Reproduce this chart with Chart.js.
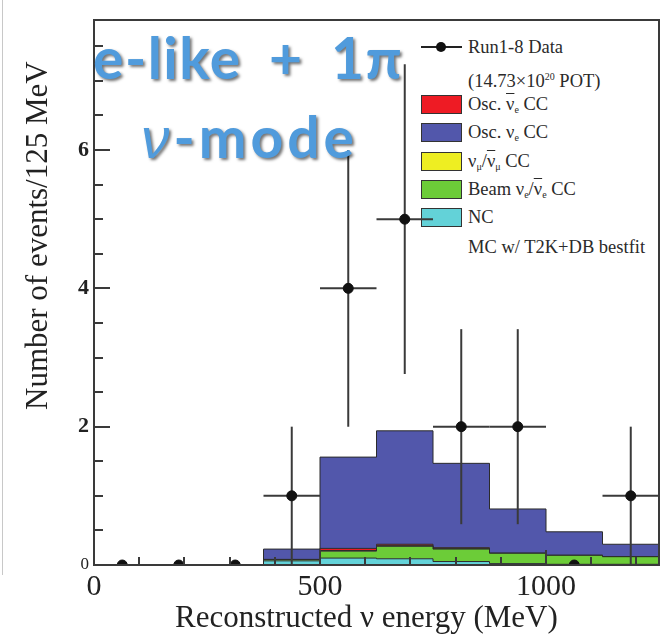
<!DOCTYPE html>
<html>
<head>
<meta charset="utf-8">
<script src="https://cdn.jsdelivr.net/npm/chart.js@4/dist/chart.umd.min.js"></script>
<style>
html,body{margin:0;padding:0;background:#fff;}
#wrap{position:relative;width:667px;height:641px;overflow:hidden;font-family:"Liberation Serif",serif;color:#222;}
#c{position:absolute;left:0;top:0;z-index:2;}
#legend{position:absolute;left:0;top:0;width:667px;height:641px;z-index:1;}
.lrow{position:absolute;left:468px;height:24px;line-height:24px;font-size:18.5px;white-space:nowrap;color:#2a2a2a;}
.lbox{position:absolute;left:421px;width:39px;height:17px;border:1px solid #333;}
.ov{text-decoration:overline;}
sub{font-size:10px;vertical-align:-3px;}
sup{font-size:10px;vertical-align:7px;}
.ann{position:absolute;z-index:3;color:#509bdc;font-family:Lato,"Open Sans",sans-serif;font-weight:bold;font-size:57px;letter-spacing:1.5px;word-spacing:12px;white-space:nowrap;text-shadow:2px 2px 3px rgba(0,0,0,0.55);line-height:1;}
.axt{position:absolute;z-index:3;font-size:31px;white-space:nowrap;color:#222;line-height:1;}
#border{position:absolute;left:2px;top:0;width:1px;height:575px;background:#c8c8c8;z-index:3;}
</style>
</head>
<body>
<div id="wrap">
  <div id="legend"></div>
  <canvas id="c" width="667" height="641"></canvas>
  <div id="border"></div>
  <div class="ann" style="left:93px;top:29px;">e-like + 1π</div>
  <div class="ann" style="left:141px;top:108px;letter-spacing:4px;"><i style="font-family:'Liberation Sans',sans-serif;font-weight:normal;">ν</i>-mode</div>
  <div class="axt" style="left:175px;top:601px;">Reconstructed ν energy (MeV)</div>
  <div class="axt" id="ytitle" style="left:37px;top:40px;transform-origin:0 0;transform:rotate(-90deg) translate(-370px,-16px);">Number of events/125 MeV</div>
</div>
<script>
// ---------- data ----------
const dataBinCenters = [62.5, 187.5, 312.5, 437.5, 562.5, 687.5, 812.5, 937.5, 1062.5, 1187.5];
const dataCounts     = [0, 0, 0, 1, 4, 5, 2, 2, 0, 1];
const dataErrLow     = [0, 0, 0, 1, 2, 2.24, 1.41, 1.41, 0, 1];
const dataErrHigh    = [0, 0, 0, 1, 2, 2.24, 1.41, 1.41, 0, 1];
const dataErrX       = [0, 0, 0, 62.5, 62.5, 62.5, 62.5, 62.5, 0, 62.5];

// MC histogram bins (left edge of first bin, then right edges)
const mcStart      = 375;
const mcBinRight   = [500, 625, 750, 875, 1000, 1125, 1250];
const mcNC         = [0.06, 0.10, 0.09, 0.05, 0.02, 0.01, 0.01];
const mcBeamNue    = [0.02, 0.10, 0.18, 0.18, 0.15, 0.13, 0.11];
const mcNumu       = [0.00, 0.01, 0.01, 0.01, 0.00, 0.00, 0.00];
const mcOscAntiNue = [0.00, 0.03, 0.02, 0.01, 0.00, 0.00, 0.00];
const mcOscNue     = [0.15, 1.32, 1.64, 1.22, 0.64, 0.34, 0.18];

const xTickValues = [0, 500, 1000];
const yTickValues = [0, 2, 4, 6];

const legendDataLines = ['Run1-8 Data', '(14.73×10<sup>20</sup> POT)'];
const legendNames = [
  'Osc. <span class="ov">ν</span><sub>e</sub> CC',
  'Osc. ν<sub>e</sub> CC',
  'ν<sub>μ</sub>/<span class="ov">ν</span><sub>μ</sub> CC',
  'Beam ν<sub>e</sub>/<span class="ov">ν</span><sub>e</sub> CC',
  'NC'
];
const legendNote = 'MC w/ T2K+DB bestfit';

const COL = {
  anti: '#ee1b24', nue: '#5257ab', numu: '#eeee22', beam: '#6ccc38', nc: '#63d2d8'
};
const legendColors = [COL.anti, COL.nue, COL.numu, COL.beam, COL.nc];

// ---------- helpers ----------
function steps(vals) {
  const pts = [{x: mcStart, y: 0}];
  vals.forEach((v, i) => pts.push({x: mcBinRight[i], y: v}));
  return pts;
}
function layer(label, vals, color, fill) {
  return {
    label, data: steps(vals), backgroundColor: color, borderColor: '#2b2b2b',
    borderWidth: 1, fill, stepped: 'after', pointRadius: 0, tension: 0, stack: 'mc'
  };
}

// ---------- legend (HTML) ----------
const lg = document.getElementById('legend');
const rowY = [104, 132, 161, 189, 217];
lg.insertAdjacentHTML('beforeend', `<div style="position:absolute;left:421px;top:46px;width:41px;height:2px;background:#222"></div>`);
lg.insertAdjacentHTML('beforeend', `<div style="position:absolute;left:436px;top:42px;width:10px;height:10px;border-radius:50%;background:#111"></div>`);
lg.insertAdjacentHTML('beforeend', `<div class="lrow" style="top:35px">${legendDataLines[0]}</div>`);
lg.insertAdjacentHTML('beforeend', `<div class="lrow" style="top:65px">${legendDataLines[1]}</div>`);
legendNames.forEach((n, i) => {
  lg.insertAdjacentHTML('beforeend', `<div class="lbox" style="top:${rowY[i]-9}px;background:${legendColors[i]}"></div>`);
  lg.insertAdjacentHTML('beforeend', `<div class="lrow" style="top:${rowY[i]-12}px">${n}</div>`);
});
lg.insertAdjacentHTML('beforeend', `<div class="lrow" style="top:235px">${legendNote}</div>`);

// ---------- plugins ----------
const errorBars = {
  id: 'errorBars',
  beforeDatasetDraw(chart, args) {
    if (args.index !== 0) return;
    const {ctx, scales: {x, y}} = chart;
    ctx.save();
    ctx.strokeStyle = '#3a3a3a';
    ctx.lineWidth = 2;
    dataBinCenters.forEach((c, i) => {
      const px = x.getPixelForValue(c), py = y.getPixelForValue(dataCounts[i]);
      if (dataErrX[i] > 0) {
        ctx.beginPath();
        ctx.moveTo(x.getPixelForValue(c - dataErrX[i]), py);
        ctx.lineTo(x.getPixelForValue(c + dataErrX[i]), py);
        ctx.stroke();
      }
      if (dataErrHigh[i] > 0 || dataErrLow[i] > 0) {
        ctx.beginPath();
        ctx.moveTo(px, y.getPixelForValue(dataCounts[i] + dataErrHigh[i]));
        ctx.lineTo(px, y.getPixelForValue(Math.max(0, dataCounts[i] - dataErrLow[i])));
        ctx.stroke();
      }
    });
    ctx.restore();
  }
};
const axisFrame = {
  id: 'axisFrame',
  afterDraw(chart) {
    const ctx = chart.ctx;
    const a = chart.chartArea;
    const xs = chart.scales.x, ys = chart.scales.y;
    ctx.save();
    ctx.fillStyle = '#3a3a3a';
    // frame
    ctx.fillRect(a.left - 1, a.top - 1, a.right - a.left + 2, 2);
    ctx.fillRect(a.left - 1, a.bottom - 1, a.right - a.left + 2, 2);
    ctx.fillRect(a.left - 1, a.top - 1, 2, a.bottom - a.top + 2);
    ctx.fillRect(a.right - 1, a.top - 1, 2, a.bottom - a.top + 2);
    // x ticks (inward)
    for (let k = 0; k <= 12; k++) {
      const v = k * 100;
      const px = Math.round(xs.getPixelForValue(v));
      const len = (k % 5 === 0) ? 15 : 8;
      ctx.fillRect(px - 1, a.bottom - len, 2, len);
    }
    // y ticks (inward)
    for (let k = 0; k <= 15; k++) {
      const v = k * 0.5;
      const py = Math.round(ys.getPixelForValue(v));
      const len = (k % 4 === 0) ? 16 : 9;
      ctx.fillRect(a.left, py - 1, len, 2);
    }
    ctx.restore();
  }
};

// ---------- chart ----------
new Chart(document.getElementById('c'), {
  type: 'line',
  data: {
    datasets: [
      {
        label: 'Run1-8 Data',
        data: dataBinCenters.map((c, i) => ({x: c, y: dataCounts[i]})),
        showLine: false, pointRadius: 5, pointBackgroundColor: '#111', pointBorderColor: '#111',
        stack: 'data', fill: false
      },
      layer('NC', mcNC, COL.nc, 'origin'),
      layer('Beam', mcBeamNue, COL.beam, '-1'),
      layer('numu', mcNumu, COL.numu, '-1'),
      layer('Osc anti-nue', mcOscAntiNue, COL.anti, '-1'),
      layer('Osc nue', mcOscNue, COL.nue, '-1')
    ]
  },
  options: {
    responsive: false, animation: false, devicePixelRatio: 1,
    layout: {padding: {left: 0, right: 8, top: 20, bottom: 0}},
    plugins: {legend: {display: false}, tooltip: {enabled: false}},
    scales: {
      x: {
        type: 'linear', min: 0, max: 1250,
        afterFit(s) { s.height = 76; },
        afterBuildTicks(s) { s.ticks = xTickValues.map(v => ({value: v})); },
        grid: {display: false, drawTicks: false}, border: {display: false},
        ticks: {font: {family: 'Liberation Serif', size: 30}, color: '#222', padding: 4, maxRotation: 0, autoSkip: false,
                callback: (v) => String(v)}
      },
      y: {
        type: 'linear', min: 0, max: 7.88, stacked: true,
        afterFit(s) { s.width = 94; },
        afterBuildTicks(s) { s.ticks = yTickValues.map(v => ({value: v})); },
        grid: {display: false, drawTicks: false}, border: {display: false},
        ticks: {
          color: '#222', padding: 5, autoSkip: false, callback: (v) => String(v),
          font: (c) => (c.tick && c.tick.value === 0)
            ? {family: 'Liberation Serif', size: 17}
            : {family: 'Liberation Serif', size: 22, weight: 'bold'}
        }
      }
    }
  },
  plugins: [errorBars, axisFrame]
});
</script>
</body>
</html>
